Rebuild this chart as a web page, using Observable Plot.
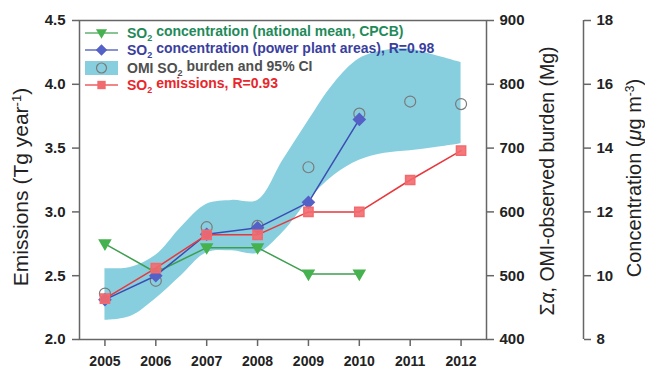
<!DOCTYPE html>
<html>
<head>
<meta charset="utf-8">
<script src="https://cdn.jsdelivr.net/npm/d3@7"></script>
<script src="https://cdn.jsdelivr.net/npm/@observablehq/plot@0.6"></script>
<style>
  html, body { margin: 0; padding: 0; background: #fff; }
  #chart svg { display: block; }
</style>
</head>
<body>
<div id="chart"></div>
<script>
// Years and series
const years = [2005, 2006, 2007, 2008, 2009, 2010, 2011, 2012];
const emissions = [2.32, 2.56, 2.82, 2.82, 3.00, 3.00, 3.25, 3.48];      // Tg / year
const omiBurden = [472, 492, 576, 578, 670, 754, 773, 769];             // Mg
const concYears = [2005, 2006, 2007, 2008, 2009, 2010];
const concNational = [11.0, 10.1, 10.88, 10.88, 10.05, 10.05];          // µg / m3
const concPower = [9.25, 10.0, 11.3, 11.5, 12.3, 14.9];                 // µg / m3

// Smoothed 95% confidence band of the OMI burden, read at half-year steps
const ciYears = [2005, 2005.5, 2006, 2006.5, 2007, 2007.5, 2008, 2008.5, 2009, 2009.5, 2010, 2010.5, 2011, 2011.5, 2012];
const ciLow  = [430, 436, 464, 500, 536, 539, 535, 568, 618, 657, 681, 692, 696, 701, 707];
const ciHigh = [511, 513, 532, 576, 612, 618, 618, 681, 743, 801, 840, 853, 855, 845, 834];

// Tick values for the three vertical axes
const emissionTicks = [2.0, 2.5, 3.0, 3.5, 4.0, 4.5];
const burdenTicks = [400, 500, 600, 700, 800, 900];
const concTicks = [8, 10, 12, 14, 16, 18];

// The plot uses the emissions scale; the other two series are mapped onto it
const eMin = 2.0, eMax = 4.5;
const bMin = 400, bMax = 900;
const cMin = 8, cMax = 18;
const burdenToE = v => eMin + (v - bMin) / (bMax - bMin) * (eMax - eMin);
const eToBurden = e => Math.round(bMin + (e - eMin) / (eMax - eMin) * (bMax - bMin));
const concToE = v => eMin + (v - cMin) / (cMax - cMin) * (eMax - eMin);
const eToConc = e => Math.round(cMin + (e - eMin) / (eMax - eMin) * (cMax - cMin));

const emissionRows = years.map((year, i) => ({year, value: emissions[i]}));
const omiRows = years.map((year, i) => ({year, value: omiBurden[i]}));
const ciRows = ciYears.map((year, i) => ({year, low: ciLow[i], high: ciHigh[i]}));
const nationalRows = concYears.map((year, i) => ({year, value: concNational[i]}));
const powerRows = concYears.map((year, i) => ({year, value: concPower[i]}));

const colors = {
  band: "#87cfdf",
  circle: "#7a7a7a",
  greenLine: "#3d9e4e", greenDot: "#46b24f", greenText: "#1f8a5a",
  blueLine: "#3b4db3", blueDot: "#5461c6", blueText: "#3a3f9e",
  redLine: "#e8373d", redDot: "#f26a6e", redText: "#e8262b",
  greyText: "#4f4f4f",
  axis: "#666"
};

// Downward-pointing triangle marker
const triangleDown = {
  draw(context, size) {
    const r = Math.sqrt(size / Math.PI);
    context.moveTo(-r * 1.1, -r * 0.75);
    context.lineTo(r * 1.1, -r * 0.75);
    context.lineTo(0, r * 1.15);
    context.closePath();
  }
};

const fontFamily = "'Liberation Sans', Arial, Helvetica, sans-serif";
const xDomain = [2004.5, 2012.5];

const svg = Plot.plot({
  width: 645,
  height: 371,
  marginLeft: 79,
  marginRight: 159,
  marginTop: 20,
  marginBottom: 32,
  style: {fontFamily, fontSize: "15px", fontWeight: "bold", color: "#222", background: "#fff"},
  x: {domain: xDomain, label: null},
  y: {domain: [eMin, eMax], label: null},
  marks: [
    Plot.areaY(ciRows, {
      x: "year",
      y1: d => burdenToE(d.low),
      y2: d => burdenToE(d.high),
      fill: colors.band,
      curve: "catmull-rom"
    }),
    Plot.dot(omiRows, {x: "year", y: d => burdenToE(d.value), r: 5.5, stroke: colors.circle, strokeWidth: 1.2, fill: "none"}),

    Plot.line(nationalRows, {x: "year", y: d => concToE(d.value), stroke: colors.greenLine, strokeWidth: 1.5}),
    Plot.dot(nationalRows, {x: "year", y: d => concToE(d.value), symbol: triangleDown, r: 5, fill: colors.greenDot, stroke: colors.greenDot}),

    Plot.line(powerRows, {x: "year", y: d => concToE(d.value), stroke: colors.blueLine, strokeWidth: 1.5}),
    Plot.dot(powerRows, {x: "year", y: d => concToE(d.value), symbol: "diamond2", r: 5.2, fill: colors.blueDot, stroke: colors.blueDot}),

    Plot.line(emissionRows, {x: "year", y: "value", stroke: colors.redLine, strokeWidth: 1.5}),
    Plot.dot(emissionRows, {x: "year", y: "value", symbol: "square", r: 5.2, fill: colors.redDot, stroke: colors.redDot, fillOpacity: 0.9}),

    Plot.frame({stroke: colors.axis, strokeWidth: 1.5}),

    Plot.axisX({ticks: years, tickFormat: d => String(d), tickSize: 7, tickPadding: 10, fontSize: 14, stroke: colors.axis, strokeWidth: 1.5, label: null}),
    Plot.axisY({anchor: "left", ticks: emissionTicks, tickFormat: d3.format(".1f"), tickSize: 7, tickPadding: 7, stroke: colors.axis, strokeWidth: 1.5, label: null}),
    Plot.axisY({anchor: "right", ticks: burdenTicks.map(burdenToE), tickFormat: eToBurden, tickSize: 7, tickPadding: 6, stroke: colors.axis, strokeWidth: 1.5, label: null}),

    // Concentration axis, offset to the right of the burden axis
    Plot.ruleX([xDomain[1]], {y1: eMin, y2: eMax, dx: 97, stroke: colors.axis, strokeWidth: 1.5}),
    Plot.axisY({anchor: "right", ticks: concTicks.map(concToE), tickFormat: eToConc, tickSize: 7, tickPadding: 6, dx: 97, stroke: colors.axis, strokeWidth: 1.5, label: null})
  ]
});

const root = d3.select(svg);

// Axis titles
function addTitle(x, y, size, parts) {
  const t = root.append("text")
    .attr("transform", `translate(${x},${y}) rotate(-90)`)
    .attr("text-anchor", "middle")
    .attr("dy", "0.35em")
    .attr("font-family", fontFamily)
    .attr("font-size", size)
    .attr("font-weight", "normal")
    .attr("fill", "#222");
  for (const p of parts) {
    const s = t.append("tspan").text(p.text);
    if (p.sup) s.attr("baseline-shift", "super").attr("font-size", Math.round(size * 0.6));
    if (p.italic) s.attr("font-style", "italic");
  }
  return t;
}
addTitle(21, 187, 21, [{text: "Emissions (Tg year"}, {text: "-1", sup: true}, {text: ")"}]);
addTitle(547, 181, 19.5, [{text: "Σ"}, {text: "α", italic: true}, {text: ", OMI-observed burden (Mg)"}]);
addTitle(634, 178, 20, [{text: "Concentration ("}, {text: "μ", italic: true}, {text: "g m"}, {text: "-3", sup: true}, {text: ")"}]);

// Legend
const legend = root.append("g")
  .attr("font-family", fontFamily)
  .attr("font-size", 14)
  .attr("font-weight", "bold")
  .attr("text-anchor", "start");
const legendItems = [
  {y: 33, kind: "line", line: colors.greenLine, dot: colors.greenDot, symbol: triangleDown, size: 80, color: colors.greenText, parts: ["SO", "2", " concentration (national mean, CPCB)"]},
  {y: 50, kind: "line", line: colors.blueLine, dot: colors.blueDot, symbol: d3.symbolDiamond2, size: 85, color: colors.blueText, parts: ["SO", "2", " concentration (power plant areas), R=0.98"]},
  {y: 68, kind: "band", color: colors.greyText, parts: ["OMI SO", "2", " burden and 95% CI"]},
  {y: 85, kind: "line", line: colors.redLine, dot: colors.redDot, symbol: d3.symbolSquare, size: 70, color: colors.redText, parts: ["SO", "2", " emissions, R=0.93"]}
];
for (const item of legendItems) {
  const g = legend.append("g").attr("transform", `translate(0,${item.y})`);
  if (item.kind === "line") {
    g.append("line").attr("x1", 85).attr("x2", 118).attr("stroke", item.line).attr("stroke-width", 1.3).attr("opacity", 0.8);
    g.append("path").attr("d", d3.symbol(item.symbol, item.size)()).attr("transform", "translate(101.5,0)").attr("fill", item.dot);
  } else {
    g.append("rect").attr("x", 85).attr("y", -7).attr("width", 33).attr("height", 14).attr("fill", colors.band);
    g.append("circle").attr("cx", 101.5).attr("cy", 0).attr("r", 5).attr("fill", "none").attr("stroke", colors.circle).attr("stroke-width", 1.2);
  }
  const t = g.append("text").attr("x", 127).attr("y", 0).attr("dy", "0.36em").attr("fill", item.color);
  t.append("tspan").text(item.parts[0]);
  t.append("tspan").text(item.parts[1]).attr("font-size", 9).attr("dy", "0.35em");
  t.append("tspan").text(item.parts[2]).attr("dy", "-0.35em");
}

document.getElementById("chart").appendChild(svg);
</script>
</body>
</html>
